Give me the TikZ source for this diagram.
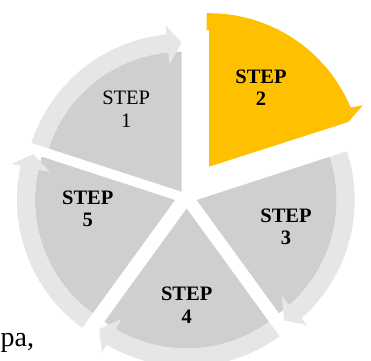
\documentclass[tikz,border=0pt]{standalone}
\usepackage{fontspec}
\setmainfont{Liberation Serif}

\definecolor{sectorgray}{RGB}{208,206,207}
\definecolor{bandgray}{RGB}{230,230,230}
\definecolor{stepyellow}{RGB}{255,192,0}

% radii of the grey pieces: inner wedge, outer edge of the arrow band,
% arrow tip and the two barbs
\def\pieinner{140}
\def\pieouter{158}
\def\pietip{149}
\def\barbin{128}
\def\barbout{167}
\def\barbback{5.5}

% #1 apex of the wedge, #2 angle where the arrow ends, #3 angle where the band starts
\newcommand\cyclepiece[3]{%
  \begin{scope}[shift={#1}]
    \fill[sectorgray] (0,0) -- (#2:\pieinner)
      arc[start angle=#2, end angle=#3, radius=\pieinner] -- cycle;
    \fill[bandgray] (#3:\pieinner)
      arc[start angle=#3, end angle=#2+\barbback, radius=\pieinner]
      -- (#2+\barbback:\barbin) -- (#2:\pietip) -- (#2+\barbback:\barbout)
      -- (#2+\barbback:\pieouter)
      arc[start angle=#2+\barbback, end angle=#3, radius=\pieouter] -- cycle;
  \end{scope}}

\begin{document}
\begin{tikzpicture}[x=1pt,y=1pt,
  steplabel/.style={align=center,inner sep=0pt,
    font=\fontsize{20.5}{22.5}\selectfont\bfseries},
  plainlabel/.style={steplabel,font=\fontsize{20.5}{22.5}\selectfont}]
\useasboundingbox (0,0) rectangle (371,360);
\clip (0,0) rectangle (371,360);

% grey pieces of the cycle
\cyclepiece{(181.7,168.3)}{90}{162}
\cyclepiece{(175,160)}{162}{234}
\cyclepiece{(186.7,151.5)}{234}{306}
\cyclepiece{(196.7,160)}{-54}{18}

% highlighted piece, pulled out of the cycle
\begin{scope}[shift={(209,193.3)}]
  \fill[stepyellow] (0,0) -- (0,136.6) -- (-2.3,136.6) -- (90.86:153.5)
    arc[start angle=90.86, end angle=22.7, radius=153.5]
    -- (21.7:165.5) -- (17.8:146) -- cycle;
\end{scope}

% labels
\node[plainlabel] (s1) at (126.2,250.8) {STEP\\1};
\node[steplabel] (s2) at (261,272.3) {STEP\\2};
\node[steplabel] (s3) at (286,133.3) {STEP\\3};
\node[steplabel] (s4) at (186.7,54.7) {STEP\\4};
\node[steplabel] (s5) at (87.8,151.2) {STEP\\5};

% running text beside the figure
\node[anchor=base west,inner sep=0pt,font=\fontsize{28}{30}\selectfont] (pa) at (0.5,13.3) {pa,};
\end{tikzpicture}
\end{document}
